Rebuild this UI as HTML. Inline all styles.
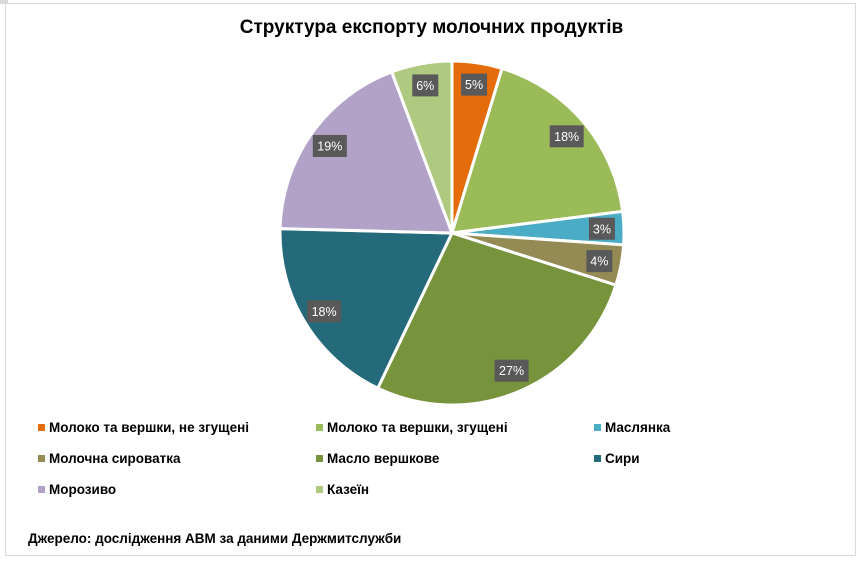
<!DOCTYPE html>
<html><head><meta charset="utf-8"><style>
body{margin:0;width:863px;height:562px;background:#fff;font-family:"Liberation Sans","Noto Sans CJK SC",sans-serif;overflow:hidden;position:relative}
#frame{position:absolute;left:5px;top:3px;width:849px;height:551px;border:1px solid #d9d9d9}
#title{position:absolute;left:0;width:863px;top:17px;text-align:center;font-weight:bold;font-size:19px;color:#000}
.leg{position:absolute;font-size:13.5px;font-weight:bold;color:#000;white-space:nowrap}
.mk{display:inline-block;width:7px;height:7px;margin-right:4px;vertical-align:1px}
#src{position:absolute;left:28px;top:531px;font-size:13.5px;font-weight:bold}
</style></head><body>
<div id="frame"></div>
<div style="position:absolute;left:0;top:0;width:8px;height:4px;background:#d9d9d9"></div>
<div id="title">Структура експорту молочних продуктів</div>
<svg id="pie" width="863" height="562" style="position:absolute;left:0;top:0"></svg>
<div id="legend"></div>
<div id="src">Джерело: дослідження АВМ за даними Держмитслужби</div>
<script>
const categories=["Молоко та вершки, не згущені","Молоко та вершки, згущені","Маслянка","Молочна сироватка","Масло вершкове","Сири","Морозиво","Казеїн"];
const values=[4.7,18.3,3.1,3.8,27.2,18.3,18.9,5.7];
const labels=["5%","18%","3%","4%","27%","18%","19%","6%"];
const colors=["#E46C0A","#9BBB59","#4BACC6","#948A54","#77933C","#256A7A","#B3A2C7","#AFCA80"];
const cx=452,cy=233,r=172,lr=150;
const svg=document.getElementById('pie');
const NS="http://www.w3.org/2000/svg";
const total=values.reduce((a,b)=>a+b,0);
let acc=0;
function pt(a,rad){return [cx+rad*Math.sin(a),cy-rad*Math.cos(a)];}
values.forEach((v,i)=>{
  const a0=acc/total*2*Math.PI;acc+=v;const a1=acc/total*2*Math.PI;
  const p0=pt(a0,r),p1=pt(a1,r);
  const p=document.createElementNS(NS,'path');
  p.setAttribute('d',`M${cx},${cy}L${p0[0]},${p0[1]}A${r},${r} 0 ${a1-a0>Math.PI?1:0} 1 ${p1[0]},${p1[1]}Z`);
  p.setAttribute('fill',colors[i]);p.setAttribute('stroke','#fff');p.setAttribute('stroke-width','3');
  
  
  svg.appendChild(p);
});
acc=0;
values.forEach((v,i)=>{
  const am=(acc+v/2)/total*2*Math.PI;acc+=v;
  const c=pt(am,lr);const w=labels[i].length>2?34:26;
  const g=document.createElementNS(NS,'g');
  
  
  const rc=document.createElementNS(NS,'rect');
  rc.setAttribute('x',c[0]-w/2);rc.setAttribute('y',c[1]-11);rc.setAttribute('width',w);rc.setAttribute('height',22);rc.setAttribute('fill','#595959');
  const t=document.createElementNS(NS,'text');
  t.setAttribute('x',c[0]);t.setAttribute('y',c[1]+4.5);t.setAttribute('text-anchor','middle');t.setAttribute('fill','#fff');t.setAttribute('font-size','12.5');t.setAttribute('font-family','Liberation Sans, sans-serif');
  t.textContent=labels[i];
  g.appendChild(rc);g.appendChild(t);svg.appendChild(g);
});
const leg=document.getElementById('legend');
const colX=[38,316,594],rowY=[420,451,482];
categories.forEach((c,i)=>{
  const d=document.createElement('div');d.className='leg';
  
  
  d.style.left=colX[i%3]+'px';d.style.top=rowY[Math.floor(i/3)]+'px';
  d.innerHTML='<span class="mk" style="background:'+colors[i]+'"></span>'+c;
  leg.appendChild(d);
});
</script>
</body></html>
